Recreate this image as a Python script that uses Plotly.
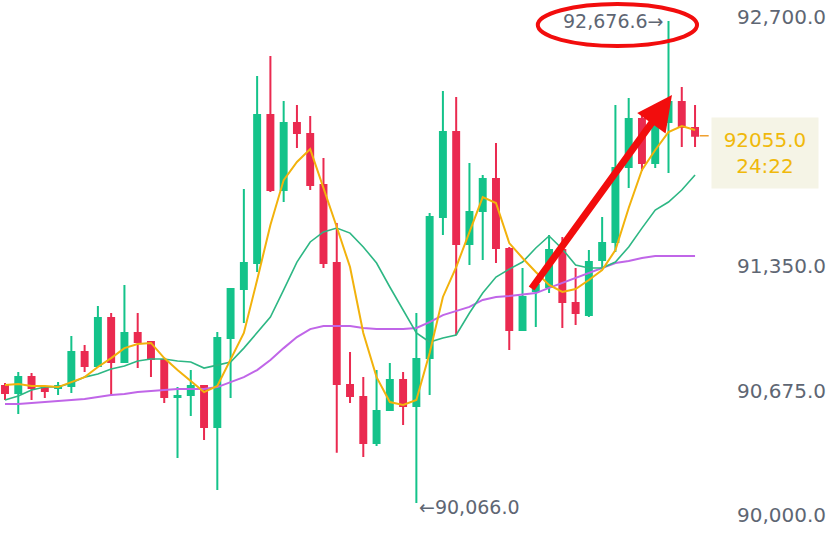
import plotly.graph_objects as go

# 15m candles, oldest first
opens = [90700, 90662, 90748, 90689, 90689, 90700, 90884, 90808, 91068, 90830,
         90987, 90938, 90841, 90640, 90651, 90700, 90478, 90960, 91225, 91366,
         92168, 91761, 92124, 92065, 91788, 91366, 90705, 90640, 90391, 90570,
         90732, 90591, 90851, 91615, 92075, 91469, 91648, 91821, 91442, 91003,
         91214, 91236, 91436, 91149, 91084, 91382, 91480, 91886, 92146, 91908,
         92130, 92238, 92097]
highs = [90716, 90776, 90770, 90694, 90721, 90971, 90922, 91133, 91095, 91247,
         91095, 90944, 90851, 90694, 90786, 90705, 90992, 91231, 91767, 92379,
         92487, 92243, 92222, 92162, 91935, 91583, 90884, 90748, 90786, 90824,
         90776, 91095, 91637, 92297, 92265, 91908, 91843, 92016, 91453, 91339,
         91263, 91518, 91507, 91339, 91436, 91615, 92222, 92260, 92178, 92140,
         92676.6, 92319, 92222]
lows = [90624, 90548, 90624, 90635, 90651, 90662, 90776, 90803, 90646, 90824,
        90797, 90748, 90608, 90310, 90537, 90407, 90136, 90635, 91041, 91317,
        91750, 91696, 91989, 91761, 91339, 90338, 90608, 90315, 90375, 90565,
        90488, 90066.0, 90651, 91518, 90976, 91355, 91382, 91366, 90895, 90998,
        91019, 91203, 91014, 91030, 91073, 91339, 91426, 91772, 91864, 91880,
        91853, 91994, 91994]
closes = [90662, 90748, 90689, 90673, 90700, 90884, 90808, 91068, 90830, 90987,
          90938, 90846, 90640, 90646, 90700, 90478, 90960, 91225, 91366, 92168,
          91761, 92124, 92070, 91788, 91366, 90711, 90646, 90391, 90564, 90732,
          90591, 90846, 91615, 92075, 91469, 91642, 91821, 91447, 91003, 91182,
          91247, 91436, 91155, 91095, 91371, 91474, 91880, 92146, 91908, 92130,
          92238, 92102, 92055.0]

ma7 = [90705, 90711, 90700, 90700, 90694, 90721, 90748, 90803, 90851, 90905,
       90927, 90933, 90851, 90786, 90727, 90667, 90700, 90841, 90987, 91274,
       91572, 91815, 91913, 91983, 91778, 91561, 91344, 90987, 90748, 90613,
       90597, 90624, 90879, 91182, 91344, 91528, 91723, 91691, 91474, 91393,
       91317, 91247, 91209, 91225, 91274, 91328, 91436, 91664, 91870, 91978,
       92075, 92108, 92086]
ma25 = [90624, 90646, 90678, 90694, 90694, 90716, 90748, 90765, 90792, 90808,
        90835, 90846, 90846, 90835, 90830, 90797, 90813, 90830, 90905, 90987,
        91073, 91220, 91371, 91480, 91534, 91555, 91528, 91453, 91366, 91236,
        91111, 90987, 90938, 90960, 90976, 91095, 91203, 91290, 91333, 91371,
        91447, 91512, 91442, 91355, 91339, 91339, 91371, 91453, 91555, 91653,
        91696, 91761, 91843]
ma99 = [90602, 90602, 90608, 90613, 90619, 90624, 90629, 90640, 90651, 90656,
        90667, 90673, 90678, 90683, 90683, 90683, 90694, 90721, 90748, 90786,
        90841, 90905, 90965, 91008, 91025, 91025, 91025, 91014, 91008, 91008,
        91008, 91014, 91046, 91084, 91106, 91128, 91166, 91182, 91187, 91193,
        91203, 91231, 91258, 91285, 91312, 91339, 91366, 91377, 91393, 91404,
        91404, 91404, 91404]

price_ticks = [90000, 90675, 91350, 92700]
last_price = 92055.0
countdown = "24:22"
high_label = "92,676.6→"
low_label = "←90,066.0"

UP = "#14C38A"
DOWN = "#EA2A50"
RED = "#F20D0D"
LABEL = "#5E6673"
FONT = "DejaVu Sans"

idx = list(range(len(opens)))
hi_i = max(idx, key=lambda i: highs[i])
lo_i = min(idx, key=lambda i: lows[i])

fig = go.Figure()
fig.add_trace(go.Candlestick(
    x=idx, open=opens, high=highs, low=lows, close=closes,
    increasing=dict(line=dict(color=UP, width=2), fillcolor=UP),
    decreasing=dict(line=dict(color=DOWN, width=2), fillcolor=DOWN),
    whiskerwidth=0, showlegend=False, hoverinfo="skip",
))
for vals, col, w in [(ma99, "#C066E8", 2), (ma25, "#2DB784", 1.6), (ma7, "#F2B20C", 2)]:
    fig.add_trace(go.Scatter(x=idx, y=vals, mode="lines",
                             line=dict(color=col, width=w),
                             showlegend=False, hoverinfo="skip"))

# dashed last-price marker running into the price tag
fig.add_shape(type="line", xref="x", yref="y",
              x0=idx[-1] + 0.35, x1=idx[-1] + 1.25, y0=last_price, y1=last_price,
              line=dict(color="#F0A030", width=1.5, dash="dash"))

# high / low extreme labels
fig.add_annotation(x=hi_i, y=highs[hi_i], text=high_label, showarrow=False,
                   xanchor="right", yanchor="middle", xshift=-3,
                   font=dict(family=FONT, size=19, color=LABEL))
fig.add_annotation(x=lo_i, y=lows[lo_i], text=low_label, showarrow=False,
                   xanchor="left", yanchor="middle", xshift=1, yshift=-4,
                   font=dict(family=FONT, size=19, color=LABEL))

# last price tag on the price scale
fig.add_annotation(xref="paper", x=0.923, xanchor="center", y=last_price,
                   yanchor="top", yshift=19,
                   text=f"{last_price:.1f}<br>{countdown}", showarrow=False,
                   bgcolor="#F5F4E6", width=104, height=68, align="center",
                   font=dict(family=FONT, size=20, color="#F0B90B"))

# red highlight ring around the high label and the trend arrow
fig.add_shape(type="circle", xref="x", yref="y",
              x0=40.15, x1=52.15, y0=92541, y1=92768,
              line=dict(color=RED, width=4))
fig.add_annotation(x=50.26, y=92276, ax=39.6, ay=91220, axref="x", ayref="y",
                   xref="x", yref="y", text="", showarrow=True,
                   arrowhead=2, arrowsize=1, arrowwidth=7, arrowcolor=RED)

fig.update_layout(
    width=829, height=537, autosize=False,
    margin=dict(l=0, r=0, t=0, b=0),
    paper_bgcolor="white", plot_bgcolor="white",
    boxgap=0.36,
    xaxis=dict(range=[-0.377, 62.095], visible=False, rangeslider=dict(visible=False)),
    yaxis=dict(range=[89882, 92790.3], side="right", ticklabelposition="inside",
               tickvals=price_ticks, tickformat=",.1f", showgrid=False,
               zeroline=False, showline=False, ticks="",
               tickfont=dict(family=FONT, size=20, color=LABEL)),
)

fig.write_html("out.html")
